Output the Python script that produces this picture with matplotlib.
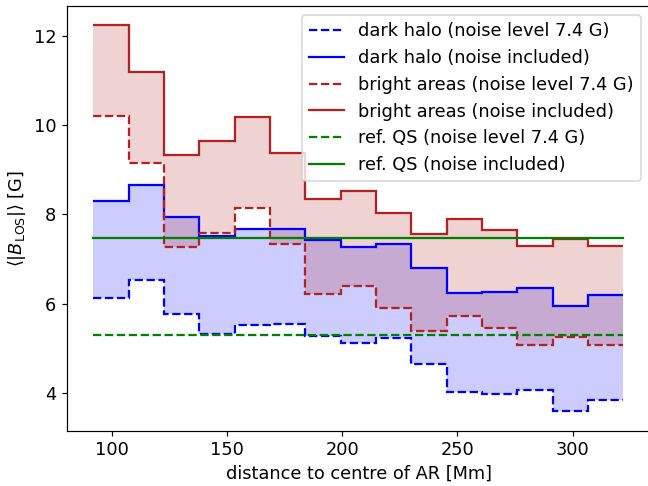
import numpy as np
import matplotlib
matplotlib.use("Agg")
import matplotlib.pyplot as plt

edges = [92.0, 107.33, 122.67, 138.0, 153.33, 168.67, 184.0, 199.33,
         214.67, 230.0, 245.33, 260.67, 276.0, 291.33, 306.67, 322.0]

dark_noise_level = [6.13, 6.52, 5.78, 5.33, 5.52, 5.55, 5.27, 5.12,
                    5.23, 4.64, 4.03, 3.97, 4.07, 3.59, 3.85]
dark_noise_incl = [8.29, 8.66, 7.95, 7.52, 7.67, 7.68, 7.43, 7.28,
                   7.33, 6.80, 6.24, 6.27, 6.36, 5.94, 6.20]
bright_noise_level = [10.20, 9.15, 7.26, 7.58, 8.14, 7.34, 6.22, 6.39,
                      5.90, 5.40, 5.73, 5.46, 5.07, 5.26, 5.08]
bright_noise_incl = [12.23, 11.18, 9.33, 9.65, 10.17, 9.37, 8.34, 8.52,
                     8.03, 7.56, 7.90, 7.65, 7.30, 7.45, 7.30]
qs_noise_level = 5.31
qs_noise_incl = 7.46

FS = 11.8
fig = plt.figure(figsize=(6.0, 4.5), dpi=108)
ax = fig.add_axes([66.7 / 648, 1 - 430.7 / 486, (652 - 66.7) / 648, (430.7 - 6) / 486])

e = np.array(edges)
ax.stairs(dark_noise_incl, e, baseline=dark_noise_level, fill=True,
          color='blue', alpha=0.2, lw=0)
ax.stairs(bright_noise_incl, e, baseline=bright_noise_level, fill=True,
          color='firebrick', alpha=0.2, lw=0)

ax.stairs(dark_noise_level, e, baseline=None, color='blue', ls='--', lw=1.5,
          label='dark halo (noise level 7.4 G)')
ax.stairs(dark_noise_incl, e, baseline=None, color='blue', ls='-', lw=1.5,
          label='dark halo (noise included)')
ax.stairs(bright_noise_level, e, baseline=None, color='firebrick', ls='--', lw=1.5,
          label='bright areas (noise level 7.4 G)')
ax.stairs(bright_noise_incl, e, baseline=None, color='firebrick', ls='-', lw=1.5,
          label='bright areas (noise included)')
ax.plot([e[0], e[-1]], [qs_noise_level, qs_noise_level], color='green', ls='--', lw=1.5,
        label='ref. QS (noise level 7.4 G)')
ax.plot([e[0], e[-1]], [qs_noise_incl, qs_noise_incl], color='green', ls='-', lw=1.5,
        label='ref. QS (noise included)')

ax.set_xlim(80.5, 334.4)
ax.set_ylim(3.158, 12.662)
ax.set_xticks([100, 150, 200, 250, 300])
ax.set_yticks([4, 6, 8, 10, 12])
ax.tick_params(labelsize=FS)
ax.set_xlabel('distance to centre of AR [Mm]', fontsize=FS)
ax.set_ylabel(r'$\langle|B_{\rm LOS}|\rangle$ [G]', fontsize=FS)
ax.legend(loc='upper right', fontsize=FS, bbox_to_anchor=(641 / 648, 1 - 15 / 486),
          bbox_transform=fig.transFigure, borderaxespad=0)

fig.savefig('out.png')
